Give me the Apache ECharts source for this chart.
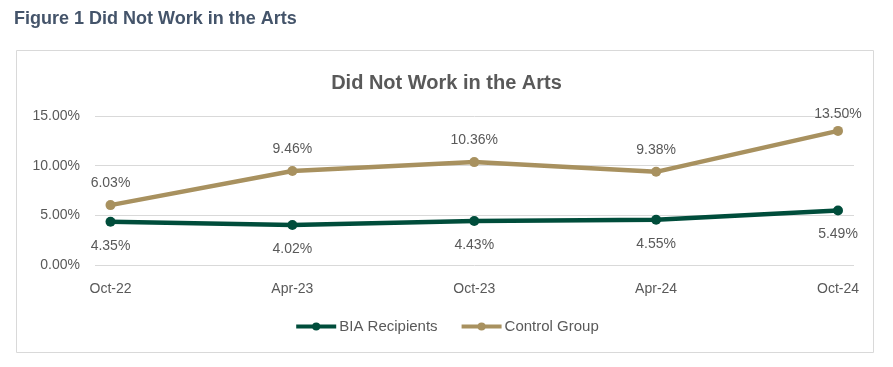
<!DOCTYPE html>
<html><head><meta charset="utf-8">
<script src="https://cdn.jsdelivr.net/npm/echarts@6/dist/echarts.min.js"></script>
<style>html,body{margin:0;padding:0;background:#fff}#c{width:893px;height:367px}</style>
</head><body><div id="c"></div>
<script>
const categories = ['Oct-22','Apr-23','Oct-23','Apr-24','Oct-24'];
const biaRecipients = [4.35, 4.02, 4.43, 4.55, 5.49];
const controlGroup = [6.03, 9.46, 10.36, 9.38, 13.50];

const chart = echarts.init(document.getElementById('c'));
const font = '"Liberation Sans", Arial, sans-serif';
const txt = '#595959';
const green = '#004d3b';
const gold = '#a8915f';
chart.setOption({
  animation: false,
  graphic: [
    {type:'rect', shape:{x:16.5,y:50.5,width:857,height:302}, style:{fill:'none', stroke:'#d9d9d9', lineWidth:1}, silent:true},
    {type:'text', left:14, top:10, style:{text:'Figure 1 Did Not Work in the Arts', font:'bold 18px ' + font, fill:'#44546a'}}
  ],
  title: {text:'Did Not Work in the Arts', left:'center', top:68, textStyle:{fontFamily:font, fontWeight:'bold', fontSize:20, color:txt}},
  legend: {bottom:28, left:'center', itemWidth:40, itemHeight:10, itemGap:22,
    lineStyle:{width:4},
    textStyle:{fontFamily:font, fontSize:15, color:txt, padding:[0,0,0,-2]}, data:['BIA Recipients','Control Group']},
  grid: [
    {left:95, right:39, top:116, bottom:102},
    {left:110.5, right:55, top:116, bottom:102}
  ],
  xAxis: [
    {gridIndex:0, type:'value', min:0, max:1, show:false},
    {gridIndex:1, type:'category', data:categories, boundaryGap:false,
      axisLine:{show:false}, axisTick:{show:false},
      axisLabel:{fontFamily:font, fontSize:14, color:txt, margin:17}}
  ],
  yAxis: [
    {gridIndex:0, type:'value', min:0, max:15, interval:5,
      axisLine:{show:false}, axisTick:{show:false},
      axisLabel:{fontFamily:font, fontSize:14, color:txt, margin:15, formatter: v => v.toFixed(2) + '%'},
      splitLine:{lineStyle:{color:'#d9d9d9', width:1}}},
    {gridIndex:1, type:'value', min:0, max:15, interval:5, show:false, splitLine:{show:false}}
  ],
  series: [
    {name:'BIA Recipients', type:'line', xAxisIndex:1, yAxisIndex:1, data:biaRecipients,
      color:green, symbol:'circle', symbolSize:10, lineStyle:{width:4.5, color:green}, itemStyle:{color:green},
      label:{show:true, position:'bottom', distance:12, fontFamily:font, fontSize:14, color:txt, formatter:p=>p.value.toFixed(2)+'%'}},
    {name:'Control Group', type:'line', xAxisIndex:1, yAxisIndex:1,
      data:controlGroup.map((v,i)=> i === controlGroup.length-1 ? {value:v, label:{distance:5}} : v),
      color:gold, symbol:'circle', symbolSize:10, lineStyle:{width:4.5, color:gold}, itemStyle:{color:gold},
      label:{show:true, position:'top', distance:10, fontFamily:font, fontSize:14, color:txt, formatter:p=>p.value.toFixed(2)+'%'}}
  ]
});
</script></body></html>
